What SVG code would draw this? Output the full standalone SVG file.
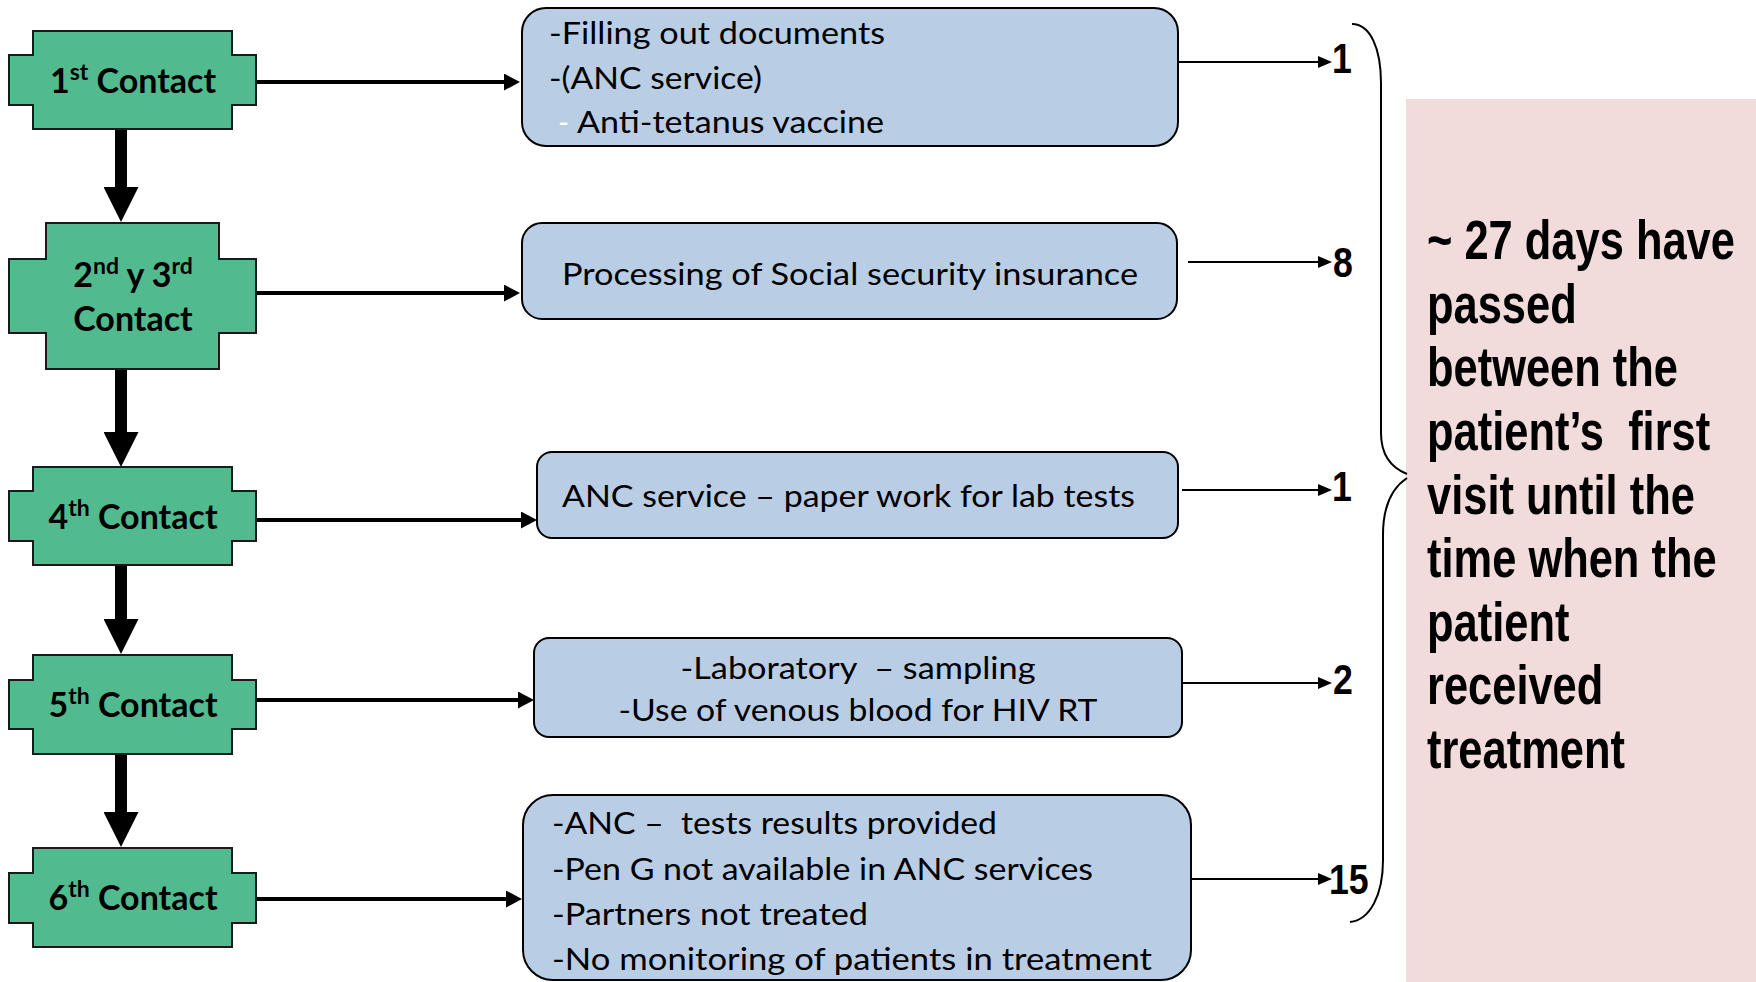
<svg xmlns="http://www.w3.org/2000/svg" width="1756" height="982" viewBox="0 0 1756 982">
<style>
.node{fill:#52BA8F;stroke:#1a1a1a;stroke-width:2}
.ntxt{font-family:Lato,"Liberation Sans",sans-serif;font-weight:700;font-size:34px;fill:#000;text-anchor:middle}
.sup{font-size:23px}
.box{fill:#B9CDE5;stroke:#000;stroke-width:2}
.btxt{font-family:Lato,"Liberation Sans",sans-serif;font-size:30px;fill:#000}
.num{font-family:"Liberation Sans",Arial,sans-serif;font-weight:700;font-size:42px;fill:#000}
.note{font-family:"Liberation Sans",Arial,sans-serif;font-weight:700;font-size:55px;fill:#000}
.thick{stroke:#000;stroke-width:12;fill:none}
.mid{stroke:#000;stroke-width:4;fill:none}
.thin{stroke:#000;stroke-width:2;fill:none}
</style>
<defs>
<marker id="bigHead" markerUnits="userSpaceOnUse" markerWidth="35" markerHeight="35" viewBox="0 0 35 35" refX="0" refY="17.5" orient="auto"><path d="M0,0 L35,17.5 L0,35 z" fill="#000"/></marker>
<marker id="midHead" markerUnits="userSpaceOnUse" markerWidth="16" markerHeight="17" viewBox="0 0 16 17" refX="0" refY="8.5" orient="auto"><path d="M0,0 L16,8.5 L0,17 z" fill="#000"/></marker>
<marker id="smallHead" markerUnits="userSpaceOnUse" markerWidth="14" markerHeight="12" viewBox="0 0 14 12" refX="0" refY="6" orient="auto"><path d="M0,0 L14,6 L0,12 z" fill="#000"/></marker>
</defs>

<rect id="note-bg" x="1406" y="99" width="350" height="883" fill="#F2DCDB"/>

<g id="connectors">
<line class="thick" x1="121" y1="129" x2="121" y2="187" marker-end="url(#bigHead)"/>
<line class="thick" x1="121" y1="369" x2="121" y2="432" marker-end="url(#bigHead)"/>
<line class="thick" x1="121" y1="565" x2="121" y2="619" marker-end="url(#bigHead)"/>
<line class="thick" x1="121" y1="754" x2="121" y2="812" marker-end="url(#bigHead)"/>
<line class="mid" x1="256" y1="82" x2="504" y2="82" marker-end="url(#midHead)"/>
<line class="mid" x1="256" y1="293" x2="504" y2="293" marker-end="url(#midHead)"/>
<line class="mid" x1="256" y1="520" x2="521" y2="520" marker-end="url(#midHead)"/>
<line class="mid" x1="256" y1="700" x2="518" y2="700" marker-end="url(#midHead)"/>
<line class="mid" x1="256" y1="899" x2="506" y2="899" marker-end="url(#midHead)"/>
<line class="thin" x1="1179" y1="62" x2="1318" y2="62" marker-end="url(#smallHead)"/>
<line class="thin" x1="1188" y1="262" x2="1318" y2="262" marker-end="url(#smallHead)"/>
<line class="thin" x1="1182" y1="490" x2="1318" y2="490" marker-end="url(#smallHead)"/>
<line class="thin" x1="1182" y1="683" x2="1318" y2="683" marker-end="url(#smallHead)"/>
<line class="thin" x1="1191" y1="879" x2="1318" y2="879" marker-end="url(#smallHead)"/>
<path class="thin" d="M1352,24 C1370,24 1381,48 1381,83 L1381,433 C1381,455 1392,468 1407,474"/>
<path class="thin" d="M1407,478 C1392,488 1383,505 1383,535 L1383,860 C1383,895 1370,920 1350,922"/>
</g>

<g id="node1">
<polygon class="node" points="33,31 232,31 232,55 256,55 256,105 232,105 232,129 33,129 33,105 9,105 9,55 33,55"/>
<text class="ntxt" x="133" y="93">1<tspan class="sup" dy="-13">st</tspan><tspan dy="13"> Contact</tspan></text>
</g>
<g id="node2">
<polygon class="node" points="46,223 219,223 219,259 256,259 256,333 219,333 219,369 46,369 46,333 9,333 9,259 46,259"/>
<text class="ntxt" x="133" y="287">2<tspan class="sup" dy="-13">nd</tspan><tspan dy="13"> y 3</tspan><tspan class="sup" dy="-13">rd</tspan></text>
<text class="ntxt" x="133" y="331">Contact</text>
</g>
<g id="node4">
<polygon class="node" points="33,467 232,467 232,491 256,491 256,541 232,541 232,565 33,565 33,541 9,541 9,491 33,491"/>
<text class="ntxt" x="133" y="529">4<tspan class="sup" dy="-13">th</tspan><tspan dy="13"> Contact</tspan></text>
</g>
<g id="node5">
<polygon class="node" points="33,655 232,655 232,680 256,680 256,729 232,729 232,754 33,754 33,729 9,729 9,680 33,680"/>
<text class="ntxt" x="133" y="717">5<tspan class="sup" dy="-13">th</tspan><tspan dy="13"> Contact</tspan></text>
</g>
<g id="node6">
<polygon class="node" points="33,848 232,848 232,873 256,873 256,923 232,923 232,947 33,947 33,923 9,923 9,873 33,873"/>
<text class="ntxt" x="133" y="910">6<tspan class="sup" dy="-13">th</tspan><tspan dy="13"> Contact</tspan></text>
</g>

<g id="box1">
<rect class="box" x="522" y="8" width="656" height="138" rx="24"/>
<text class="btxt" x="549" y="44" textLength="336" lengthAdjust="spacingAndGlyphs">-Filling out documents</text>
<text class="btxt" x="549" y="89" textLength="213" lengthAdjust="spacingAndGlyphs">-(ANC service)</text>
<text class="btxt" x="558" y="133" style="fill:#fff">-</text>
<text class="btxt" x="577" y="133" textLength="307" lengthAdjust="spacingAndGlyphs">Anti-tetanus vaccine</text>
</g>
<g id="box2">
<rect class="box" x="522" y="223" width="655" height="96" rx="20"/>
<text class="btxt" x="562" y="285" textLength="576" lengthAdjust="spacingAndGlyphs">Processing of Social security insurance</text>
</g>
<g id="box3">
<rect class="box" x="537" y="452" width="641" height="86" rx="15"/>
<text class="btxt" x="562" y="507" textLength="573" lengthAdjust="spacingAndGlyphs">ANC service – paper work for lab tests</text>
</g>
<g id="box4">
<rect class="box" x="534" y="638" width="648" height="99" rx="15"/>
<text class="btxt" x="858" y="679" text-anchor="middle" xml:space="preserve" textLength="355" lengthAdjust="spacingAndGlyphs">-Laboratory  – sampling</text>
<text class="btxt" x="858" y="721" text-anchor="middle" textLength="479" lengthAdjust="spacingAndGlyphs">-Use of venous blood for HIV RT</text>
</g>
<g id="box5">
<rect class="box" x="523" y="795" width="668" height="185" rx="30"/>
<text class="btxt" x="552" y="834" xml:space="preserve" textLength="445" lengthAdjust="spacingAndGlyphs">-ANC –  tests results provided</text>
<text class="btxt" x="552" y="880" textLength="541" lengthAdjust="spacingAndGlyphs">-Pen G not available in ANC services</text>
<text class="btxt" x="552" y="925" textLength="316" lengthAdjust="spacingAndGlyphs">-Partners not treated</text>
<text class="btxt" x="552" y="970" textLength="600" lengthAdjust="spacingAndGlyphs">-No monitoring of patients in treatment</text>
</g>

<g id="numbers">
<text class="num" transform="translate(1332,73) scale(0.85,1)">1</text>
<text class="num" transform="translate(1333,277) scale(0.85,1)">8</text>
<text class="num" transform="translate(1332,501) scale(0.85,1)">1</text>
<text class="num" transform="translate(1333,694) scale(0.85,1)">2</text>
<text class="num" transform="translate(1329,894) scale(0.85,1)">15</text>
</g>

<g id="note" transform="translate(1427,0) scale(0.79,1)">
<text class="note" x="0" y="259">~ 27 days have</text>
<text class="note" x="0" y="323">passed</text>
<text class="note" x="0" y="386">between the</text>
<text class="note" xml:space="preserve" x="0" y="450">patient’s  first</text>
<text class="note" x="0" y="514">visit until the</text>
<text class="note" x="0" y="577">time when the</text>
<text class="note" x="0" y="641">patient</text>
<text class="note" x="0" y="704">received</text>
<text class="note" x="0" y="768">treatment</text>
</g>
</svg>
